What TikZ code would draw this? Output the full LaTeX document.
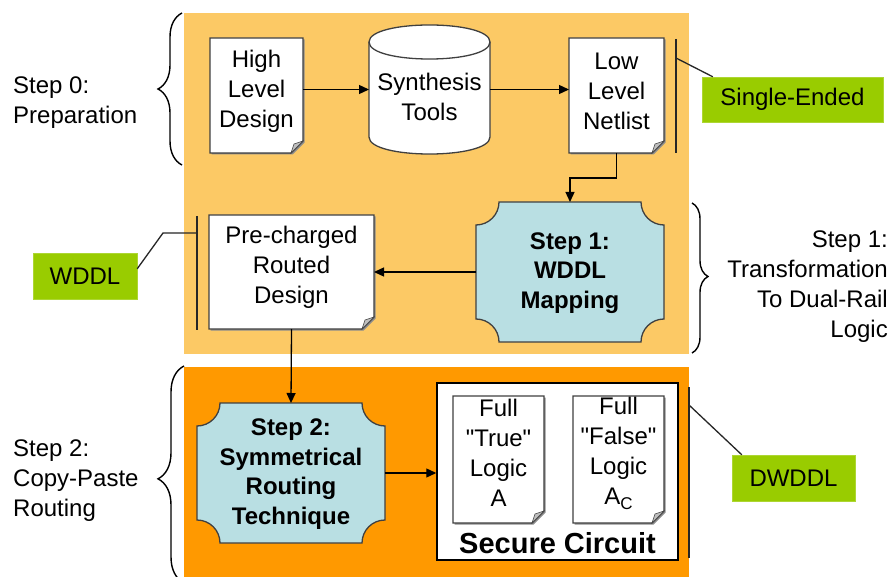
\documentclass[tikz,border=0pt]{standalone}
\usepackage{fontspec}
\setmainfont{Liberation Sans}
\usetikzlibrary{arrows.meta,calc,decorations.pathreplacing}
\definecolor{lorange}{HTML}{FCC965}
\definecolor{dorange}{HTML}{FF9900}
\definecolor{lgreen}{HTML}{99CC00}
\definecolor{lblue}{HTML}{B9DFE3}
\definecolor{edgegray}{HTML}{404040}
\newcommand\dq{\XeTeXglyph\XeTeXcharglyph"22\relax}
\tikzset{
  ghost/.style={inner sep=0pt, outer sep=0pt, draw=none},
  txt/.style={font=\fontsize{24}{30}\selectfont, align=center, inner sep=0pt},
  boldtxt/.style={font=\fontsize{24}{29.5}\selectfont\bfseries, align=center, inner sep=0pt},
  docline/.style={draw=edgegray, line width=1.3pt, fill=white},
  stepline/.style={draw=edgegray, line width=1.3pt, fill=lblue},
  arr/.style={-{Triangle[length=10pt,width=9pt]}, line width=1.3pt},
  ann/.style={line width=1.3pt, draw=black!85},
  greenbox/.style={fill=lgreen, draw=lgreen!80!white, inner sep=0pt, font=\fontsize{24}{28}\selectfont},
  bracestyle/.style={decorate, line width=1.4pt}
}
% document page with folded corner
\newcommand\docbox[7]{%
  \fill[black!45] (#2+1.5,#3+1.5) -- (#4+1.5,#3+1.5) -- (#4+1.5,#5-10.5) -- (#4-10.5,#5+1.5) -- (#2+1.5,#5+1.5) -- cycle;
  \draw[docline] (#2,#3) -- (#4,#3) -- (#4,#5-12) -- (#4-12,#5) -- (#2,#5) -- cycle;
  \filldraw[fill=black!25, draw=edgegray, line width=0.6pt] (#4,#5-12) -- (#4-12,#5) -- (#4-9,#5-9) -- cycle;
  \node[ghost, minimum width=#4-#2, minimum height=#5-#3] (#1) at ({(#2+#4)/2},{(#3+#5)/2}) {};
  \node[txt] (#1-t) at ({(#2+#4)/2},#6) {#7};
}
% box with concave corners
\newcommand\concavebox[7]{%
  \draw[stepline] (#2+23,#3) -- (#4-23,#3)
    .. controls (#4-23,#3+12.7) and (#4-12.7,#3+23) .. (#4,#3+23)
    -- (#4,#5-23)
    .. controls (#4-12.7,#5-23) and (#4-23,#5-12.7) .. (#4-23,#5)
    -- (#2+23,#5)
    .. controls (#2+23,#5-12.7) and (#2+12.7,#5-23) .. (#2,#5-23)
    -- (#2,#3+23)
    .. controls (#2+12.7,#3+23) and (#2+23,#3+12.7) .. (#2+23,#3) -- cycle;
  \node[ghost, minimum width=#4-#2, minimum height=#5-#3] (#1) at ({(#2+#4)/2},{(#3+#5)/2}) {};
  \node[boldtxt] (#1-t) at ({(#2+#4)/2},#6) {#7};
}
\begin{document}
\begin{tikzpicture}[x=1pt,y=-1pt]
\useasboundingbox (0,0) rectangle (891,577);
\fill[white] (0,0) rectangle (891,577);

% stage backgrounds
\fill[lorange] (184,13) rectangle (689,354);
\fill[dorange] (184,367) rectangle (689,577);

% braces and step labels
\draw[bracestyle, decoration={brace, amplitude=24pt, aspect=0.5}] (182,165) -- (182,13);
\draw[bracestyle, decoration={brace, amplitude=16pt, aspect=0.49}] (692,203) -- (692,353);
\draw[bracestyle, decoration={brace, amplitude=26pt, aspect=0.48}] (184,583) -- (184,366);
\node[txt, align=left, anchor=west] (st0) at (13,103) {Step 0:\\Preparation};
\node[txt, align=right, anchor=east] (st1) at (888,287) {Step 1:\\Transformation\\To Dual-Rail\\Logic};
\node[txt, align=left, anchor=west] (st2) at (13,481) {Step 2:\\Copy-Paste\\Routing};

% documents
\docbox{hld}{210}{38}{303}{153}{91}{High\\Level\\Design}
\docbox{lln}{569}{38}{664}{153}{91}{Low\\Level\\Netlist}
\docbox{pre}{209}{215}{374}{329}{267}{Pre-charged\\Routed\\Design}

% cylinder
\draw[docline] (369,42) -- (369,137) .. controls (369,159.7) and (490,159.7) .. (490,137)
  -- (490,42) .. controls (490,19.3) and (369,19.3) .. (369,42) -- cycle;
\draw[line width=1.3pt, draw=edgegray] (369,42) .. controls (369,64.7) and (490,64.7) .. (490,42);
\node[ghost, minimum width=121, minimum height=129] (syn) at (429.5,89.5) {};
\node[txt] (syn-t) at (429.5,97) {Synthesis\\Tools};

% step boxes
\concavebox{s1}{476}{202}{664}{342}{273}{Step 1:\\WDDL\\Mapping}
\concavebox{s2}{197}{403}{385}{543}{474}{Step 2:\\Symmetrical\\Routing\\Technique}

% secure circuit
\node[draw=black, line width=1.5pt, fill=white, minimum width=241, minimum height=177, inner sep=0pt] (sec) at (557.5,471.5) {};
\docbox{da}{453}{396}{544}{523}{453}{Full\\\dq True\dq\\Logic\\A}
\docbox{db}{573}{396}{664}{523}{453}{Full\\\dq False\dq\\Logic\\A\raisebox{-5pt}{\fontsize{17}{17}\selectfont C}}
\node[font=\fontsize{29}{32}\selectfont\bfseries, inner sep=0pt] (sec-t) at (557.5,543) {Secure Circuit};

% connectors
\draw[arr] (hld.east |- syn.west) -- (syn.west);
\draw[arr] (syn.east) -- (lln.west |- syn.east);
\draw[arr] (lln.south) -- ++(0,25) -| (s1.north);
\draw[arr] (s1.west) -- (pre.east |- s1.west);
\draw[arr] (pre.south) -- (s2.north);
\draw[arr] (s2.east) -- (sec.west |- s2.east);

% annotation labels
\node[greenbox, minimum width=181, minimum height=45] (se) at (792.5,99.5) {Single-Ended};
\node[greenbox, minimum width=104, minimum height=46] (wd) at (85,276) {WDDL};
\node[greenbox, minimum width=123, minimum height=46] (dw) at (793.5,478) {DWDDL};

\coordinate (b0t) at (676,39);
\coordinate (b0b) at (676,153);
\coordinate (b0a) at (676,58);
\coordinate (b1t) at (197,216);
\coordinate (b1b) at (197,330);
\coordinate (b1a) at (197,233);
\coordinate (b1k) at (163,233);
\coordinate (b2t) at (689,387);
\coordinate (b2b) at (689,558);
\coordinate (b2a) at (689,405);
\draw[ann] (b0t) -- (b0b);
\draw[ann] (b1t) -- (b1b);
\draw[ann] (b2t) -- (b2b);
\draw[ann] (b0a) -- ($(se.north west)+(11,0)$);
\draw[ann] (b1a) -- (b1k) -- ($(wd.north east)+(0,16)$);
\draw[ann] (b2a) -- ($(dw.north west)+(10,0)$);
\end{tikzpicture}
\end{document}
